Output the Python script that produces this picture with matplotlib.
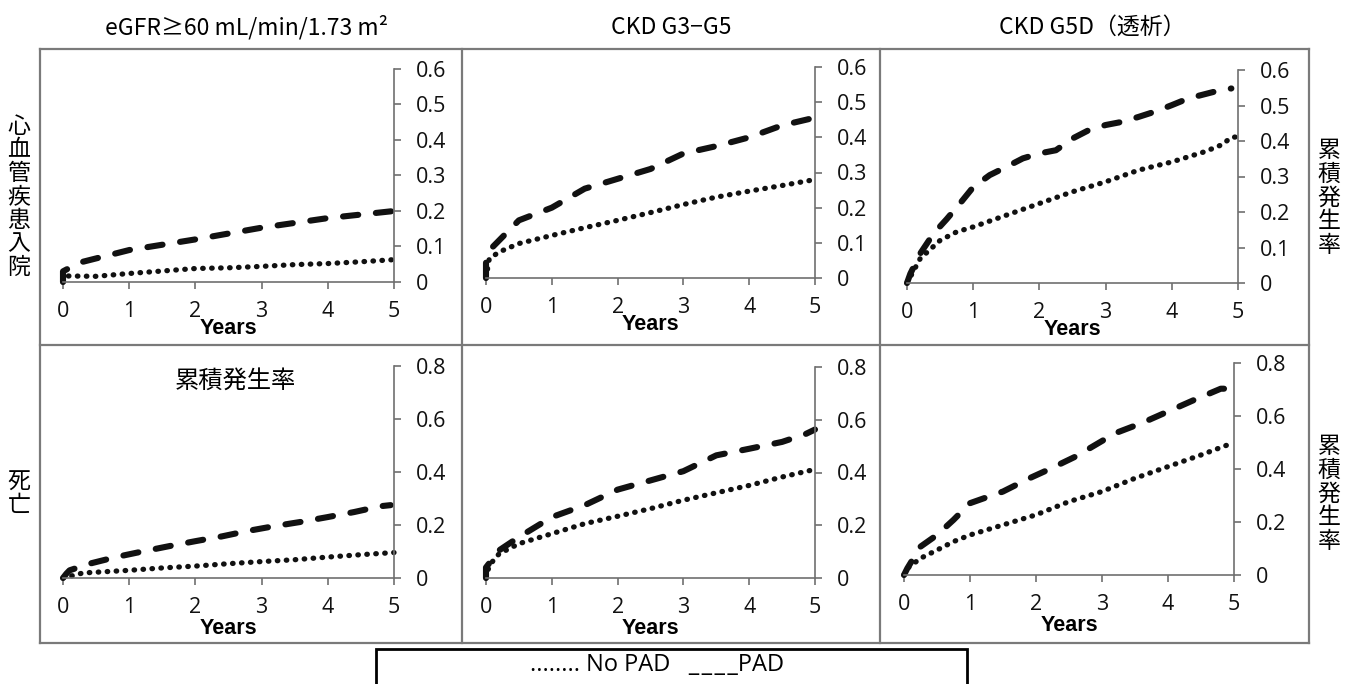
import matplotlib.pyplot as plt
from matplotlib.patches import Rectangle
from matplotlib.lines import Line2D

W, H = 1352, 684
jp = ['Noto Sans CJK JP', 'DejaVu Sans']

# ---- data ----
col_titles = ['eGFR≥60 mL/min/1.73 m²', 'CKD G3−G5', 'CKD G5D（透析）']
x_ticks = [0, 1, 2, 3, 4, 5]
cvd_ticks = [0, 0.1, 0.2, 0.3, 0.4, 0.5, 0.6]
cvd_tick_labels = ['0', '0.1', '0.2', '0.3', '0.4', '0.5', '0.6']
death_ticks = [0, 0.2, 0.4, 0.6, 0.8]
death_tick_labels = ['0', '0.2', '0.4', '0.6', '0.8']

# CVD hospitalisation, eGFR>=60
cvd_egfr_pad_t = [0, 0, 0.05, 0.3, 1, 2, 3, 4, 5]
cvd_egfr_pad = [0, 0.03, 0.035, 0.057, 0.09, 0.12, 0.153, 0.18, 0.2]
cvd_egfr_nopad_t = [0, 0.05, 0.5, 1, 1.5, 2, 2.5, 3, 3.5, 4, 4.5, 5]
cvd_egfr_nopad = [0, 0.017, 0.016, 0.024, 0.031, 0.038, 0.04, 0.044, 0.049, 0.052, 0.057, 0.063]

# CVD hospitalisation, CKD G3-G5
cvd_ckd_pad_t = [0, 0, 0.1, 0.5, 1, 1.5, 2, 2.5, 3, 3.5, 4, 4.5, 5]
cvd_ckd_pad = [0, 0.045, 0.088, 0.164, 0.2, 0.254, 0.282, 0.31, 0.354, 0.375, 0.4, 0.434, 0.456]
cvd_ckd_nopad_t = [0, 0.05, 0.2, 0.5, 1, 1.5, 2, 2.5, 3, 3.5, 4, 4.5, 5]
cvd_ckd_nopad = [0, 0.055, 0.074, 0.098, 0.121, 0.143, 0.164, 0.186, 0.209, 0.23, 0.247, 0.263, 0.28]

# CVD hospitalisation, CKD G5D
cvd_hd_pad_t = [0, 0.05, 0.2, 0.4, 0.6, 0.8, 1, 1.25, 1.5, 1.75, 2, 2.25, 2.5, 2.75,
                3, 3.25, 3.5, 3.75, 4, 4.25, 4.5, 4.75, 4.9]
cvd_hd_pad = [0, 0.026, 0.083, 0.139, 0.18, 0.224, 0.27, 0.304, 0.327, 0.351, 0.365, 0.374,
              0.407, 0.431, 0.445, 0.454, 0.468, 0.483, 0.501, 0.52, 0.532, 0.544, 0.548]
cvd_hd_nopad_t = [0, 0.05, 0.2, 0.5, 0.75, 1, 1.5, 2, 2.5, 3, 3.5, 4, 4.5, 4.75, 4.9, 5]
cvd_hd_nopad = [0, 0.017, 0.069, 0.12, 0.144, 0.158, 0.191, 0.224, 0.257, 0.285, 0.318,
                0.341, 0.37, 0.389, 0.41, 0.412]

# death, eGFR>=60
death_egfr_pad_t = [0, 0.05, 0.1, 0.4, 0.8, 1.2, 1.6, 2, 2.4, 2.8, 3.2, 3.6, 4, 4.4, 4.8, 4.95]
death_egfr_pad = [0, 0.016, 0.029, 0.054, 0.079, 0.1, 0.12, 0.139, 0.157, 0.178, 0.196,
                  0.212, 0.23, 0.249, 0.271, 0.275]
death_egfr_nopad_t = [0, 0.1, 0.3, 1, 1.5, 2, 2.5, 3, 3.5, 4, 4.5, 5]
death_egfr_nopad = [0, 0.006, 0.019, 0.029, 0.038, 0.045, 0.054, 0.062, 0.069, 0.079, 0.088, 0.096]

# death, CKD G3-G5
death_ckd_pad_t = [0, 0, 0.2, 0.5, 1, 1.5, 2, 2.5, 3, 3.5, 4, 4.5, 4.85, 5]
death_ckd_pad = [0, 0.04, 0.105, 0.155, 0.231, 0.276, 0.335, 0.37, 0.405, 0.465, 0.49,
                 0.516, 0.545, 0.563]
death_ckd_nopad_t = [0, 0.05, 0.2, 0.5, 1, 1.5, 2, 2.5, 3, 3.5, 4, 4.5, 5]
death_ckd_nopad = [0, 0.048, 0.092, 0.13, 0.168, 0.206, 0.234, 0.263, 0.295, 0.323, 0.351, 0.383, 0.412]

# death, CKD G5D
death_hd_pad_t = [0, 0.05, 0.25, 0.5, 0.75, 1, 1.5, 1.9, 2.2, 2.6, 2.9, 3.2, 3.6, 4, 4.4, 4.8, 4.9]
death_hd_pad = [0, 0.025, 0.107, 0.151, 0.208, 0.271, 0.315, 0.365, 0.399, 0.447, 0.491,
                0.535, 0.573, 0.617, 0.661, 0.703, 0.703]
death_hd_nopad_t = [0, 0.05, 0.25, 0.5, 0.75, 1, 1.5, 2, 2.5, 3, 3.5, 4, 4.5, 5]
death_hd_nopad = [0, 0.025, 0.063, 0.094, 0.126, 0.151, 0.189, 0.227, 0.277, 0.315, 0.365,
                  0.409, 0.453, 0.5]

panels = [
    [(cvd_egfr_pad_t, cvd_egfr_pad, cvd_egfr_nopad_t, cvd_egfr_nopad),
     (cvd_ckd_pad_t, cvd_ckd_pad, cvd_ckd_nopad_t, cvd_ckd_nopad),
     (cvd_hd_pad_t, cvd_hd_pad, cvd_hd_nopad_t, cvd_hd_nopad)],
    [(death_egfr_pad_t, death_egfr_pad, death_egfr_nopad_t, death_egfr_nopad),
     (death_ckd_pad_t, death_ckd_pad, death_ckd_nopad_t, death_ckd_nopad),
     (death_hd_pad_t, death_hd_pad, death_hd_nopad_t, death_hd_nopad)],
]

# axes boxes in pixels: x0, x5, y_bottom, y_top
boxes = [
    [(63, 394, 282, 69), (486, 815, 278, 67), (907, 1238, 283, 70)],
    [(63, 394, 578, 366), (486, 815, 578, 367), (904, 1234, 575, 363)],
]

fig = plt.figure(figsize=(W / 100, H / 100), dpi=100)
axc = '#707070'

def fx(x):
    return x / W

def fy(y):
    return 1 - y / H

for r in range(2):
    for c in range(3):
        x0, x1, yb, yt = boxes[r][c]
        ax = fig.add_axes([fx(x0), fy(yb), (x1 - x0) / W, (yb - yt) / H])
        pt, py, nt, ny = panels[r][c]
        ax.plot(nt, ny, color='#111111', lw=3.8, linestyle=(0, (0.1, 1.6)),
                dash_capstyle='round', clip_on=False)
        ax.plot(pt, py, color='#111111', lw=4.4, linestyle=(0, (2.5, 2.9)),
                dash_capstyle='round', clip_on=False)
        ax.set_xlim(0, 5)
        if r == 0:
            ax.set_ylim(0, 0.6)
            ax.set_yticks(cvd_ticks, cvd_tick_labels)
        else:
            ax.set_ylim(0, 0.8)
            ax.set_yticks(death_ticks, death_tick_labels)
        ax.set_xticks(x_ticks, [str(v) for v in x_ticks])
        ax.yaxis.tick_right()
        for s in ['top', 'left']:
            ax.spines[s].set_visible(False)
        for s in ['right', 'bottom']:
            ax.spines[s].set_color(axc)
            ax.spines[s].set_linewidth(1.2)
        ax.tick_params(axis='both', colors=axc, length=5, width=1.2,
                       labelcolor='#111111', labelsize=15.5)
        ax.tick_params(axis='y', pad=11)
        ax.tick_params(axis='x', pad=9)
        for lab in ax.get_xticklabels() + ax.get_yticklabels():
            lab.set_family('Open Sans')
        ax.set_xlabel('Years', family='Liberation Sans', fontweight='bold',
                      fontsize=15.5, labelpad=-3 if r == 0 else 0)
        ax.patch.set_alpha(0)

# panel frames
fc = '#7a7a7a'
for (xa, ya, xb, yb_) in [(40, 49, 1309, 49), (40, 345, 1309, 345), (40, 643, 1309, 643),
                          (40, 49, 40, 643), (462, 49, 462, 643), (880, 49, 880, 643),
                          (1309, 49, 1309, 643)]:
    fig.add_artist(Line2D([fx(xa), fx(xb)], [fy(ya), fy(yb_)], color=fc, lw=1.6))

# column titles
for cx, t in zip([247, 671, 1092], col_titles):
    fig.text(fx(cx), fy(27), t, ha='center', va='center', fontsize=16.5, family=jp)

# row labels
fig.text(fx(19), fy(197), '\n'.join('心血管疾患入院'), ha='center', va='center',
         fontsize=16.5, family=jp, linespacing=1.03)
fig.text(fx(19), fy(494), '\n'.join('死亡'), ha='center', va='center',
         fontsize=16.5, family=jp, linespacing=1.03)
for cy in [198, 494]:
    fig.text(fx(1329), fy(cy), '\n'.join('累積発生率'), ha='center', va='center',
             fontsize=16.5, family=jp, linespacing=1.03)
fig.text(fx(235), fy(381), '累積発生率', ha='center', va='center', fontsize=17.5, family=jp)

# legend box
fig.add_artist(Rectangle((fx(376), fy(700)), fx(967 - 376), (700 - 649) / H,
                         fill=False, edgecolor='black', lw=2, clip_on=False))
fig.text(fx(657), fy(665), '........ No PAD   _\u200a_\u200a_\u200a_PAD', ha='center',
         va='center', fontsize=17, family=['Open Sans', 'DejaVu Sans'])

fig.savefig('out.png', dpi=100)
